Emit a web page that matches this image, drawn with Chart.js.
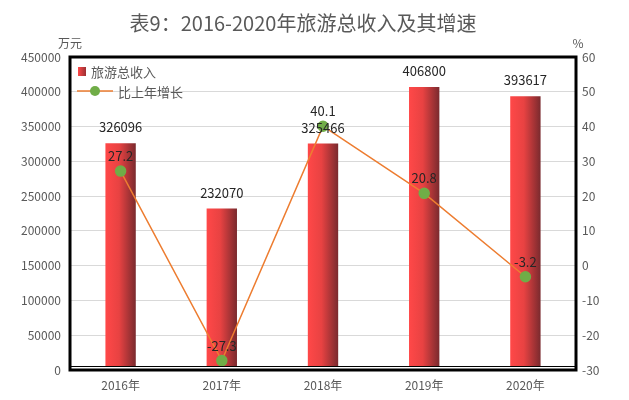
<!DOCTYPE html>
<html>
<head>
<meta charset="utf-8">
<script src="https://cdn.jsdelivr.net/npm/chart.js@4"></script>
<style>
  html, body { margin: 0; padding: 0; background: #fff; }
  #wrap { width: 629px; height: 400px; }
</style>
</head>
<body>
<div id="wrap"><canvas id="myChart" width="629" height="400"></canvas></div>
<script>
// ///////////// data
const years = ["2016年", "2017年", "2018年", "2019年", "2020年"];
const income = [326096, 232070, 325466, 406800, 393617];
const growth = [27.2, -27.3, 40.1, 20.8, -3.2];
const leftTicks = [0, 450000, 50000];
const rightTicks = [-30, 60, 10];

const FONT = "'Noto Sans CJK SC', 'Noto Sans', sans-serif";
const TXT = '#595959';

// ///////////// gradient for each bar
const barFill = function(c){
    const chart = c.chart;
    const area = chart.chartArea;
    const x = chart.scales.x;
    if(!area || !x || c.dataIndex === undefined) return '#f04444';
    const cx = x.getPixelForValue(c.dataIndex);
    const w = area.width / years.length * 0.3;
    const g = chart.ctx.createLinearGradient(cx - w/2, 0, cx + w/2, 0);
    g.addColorStop(0, '#ff4848');
    g.addColorStop(0.45, '#e84242');
    g.addColorStop(1, '#7a2a2e');
    return g;
};

// ///////////// title, frame, legend and value labels
const decorPlugin = {
    id: 'decor',
    afterDraw(chart){
        const ctx = chart.ctx;
        const a = chart.chartArea;
        ctx.save();
        // title
        ctx.fillStyle = '#595959';
        ctx.font = "20px " + FONT;
        ctx.textAlign = 'center';
        ctx.textBaseline = 'middle';
        ctx.fillText('表9：2016-2020年旅游总收入及其增速', 303, 23);
        // axis units
        ctx.font = "12px " + FONT;
        ctx.fillStyle = TXT;
        ctx.fillText('万元', 70, 43);
        ctx.fillText('%', 578, 43);
        // frame (double line at the bottom)
        const b = Math.round(a.bottom);
        ctx.fillStyle = '#fff';
        ctx.fillRect(a.left, b - 3, a.right - a.left, 2);
        ctx.strokeStyle = '#000';
        ctx.lineWidth = 3;
        ctx.strokeRect(a.left, a.top, a.right - a.left, a.bottom - a.top);
        ctx.lineWidth = 1;
        ctx.beginPath();
        ctx.moveTo(a.left, b - 3.5);
        ctx.lineTo(a.right, b - 3.5);
        ctx.stroke();
        // legend
        ctx.textAlign = 'left';
        ctx.font = "13px " + FONT;
        const g = ctx.createLinearGradient(a.left + 8, 0, a.left + 16, 0);
        g.addColorStop(0, '#ff4848');
        g.addColorStop(1, '#9a3034');
        ctx.fillStyle = g;
        ctx.fillRect(a.left + 8, a.top + 10, 8, 9);
        ctx.fillStyle = TXT;
        ctx.fillText('旅游总收入', a.left + 21, a.top + 15);
        ctx.strokeStyle = '#ed7d31';
        ctx.lineWidth = 1.5;
        ctx.beginPath();
        ctx.moveTo(a.left + 7, a.top + 34);
        ctx.lineTo(a.left + 43, a.top + 34);
        ctx.stroke();
        ctx.fillStyle = '#70ad47';
        ctx.beginPath();
        ctx.arc(a.left + 25, a.top + 34, 5, 0, Math.PI * 2);
        ctx.fill();
        ctx.fillStyle = TXT;
        ctx.fillText('比上年增长', a.left + 48, a.top + 35);
        // value labels
        ctx.textAlign = 'center';
        ctx.fillStyle = '#262626';
        chart.getDatasetMeta(0).data.forEach((bar, i) => {
            ctx.fillText(String(income[i]), bar.x, bar.y - 16);
        });
        chart.getDatasetMeta(1).data.forEach((pt, i) => {
            ctx.fillText(String(growth[i]), pt.x, pt.y - 15);
        });
        ctx.restore();
    }
};

const ctx = document.getElementById('myChart').getContext('2d');
const myChart = new Chart(ctx, {
    type: 'bar',
    data: {
        labels: years,
        datasets: [{
            type: 'bar',
            label: '旅游总收入',
            data: income,
            yAxisID: 'y',
            backgroundColor: barFill,
            barPercentage: 0.3,
            categoryPercentage: 1,
            order: 2
        }, {
            type: 'line',
            label: '比上年增长',
            data: growth,
            yAxisID: 'y1',
            borderColor: '#ed7d31',
            borderWidth: 1.5,
            tension: 0,
            pointRadius: 5,
            pointBackgroundColor: '#70ad47',
            pointBorderColor: '#70ad47',
            order: 1
        }]
    },
    options: {
        responsive: false,
        animation: false,
        layout: { padding: { top: 57, left: 0, right: 0, bottom: 0 } },
        plugins: {
            legend: { display: false },
            title: { display: false },
            tooltip: { enabled: false }
        },
        scales: {
            x: {
                grid: { display: false, drawTicks: false },
                border: { display: false },
                ticks: { color: TXT, font: { family: FONT, size: 12 }, padding: 8 },
                afterFit(s){ s.height = 30; }
            },
            y: {
                position: 'left',
                min: leftTicks[0], max: leftTicks[1],
                ticks: {
                    stepSize: leftTicks[2], color: TXT, font: { family: FONT, size: 12 }, padding: 9,
                    callback: (v) => String(v)
                },
                grid: { color: '#d9d9d9', drawTicks: false },
                border: { display: false },
                afterFit(s){ s.width = 70; }
            },
            y1: {
                position: 'right',
                min: rightTicks[0], max: rightTicks[1],
                ticks: { stepSize: rightTicks[2], color: TXT, font: { family: FONT, size: 12 }, padding: 6 },
                grid: { display: false, drawTicks: false },
                border: { display: false },
                afterFit(s){ s.width = 53; }
            }
        }
    },
    plugins: [decorPlugin]
});
</script>
</body>
</html>
